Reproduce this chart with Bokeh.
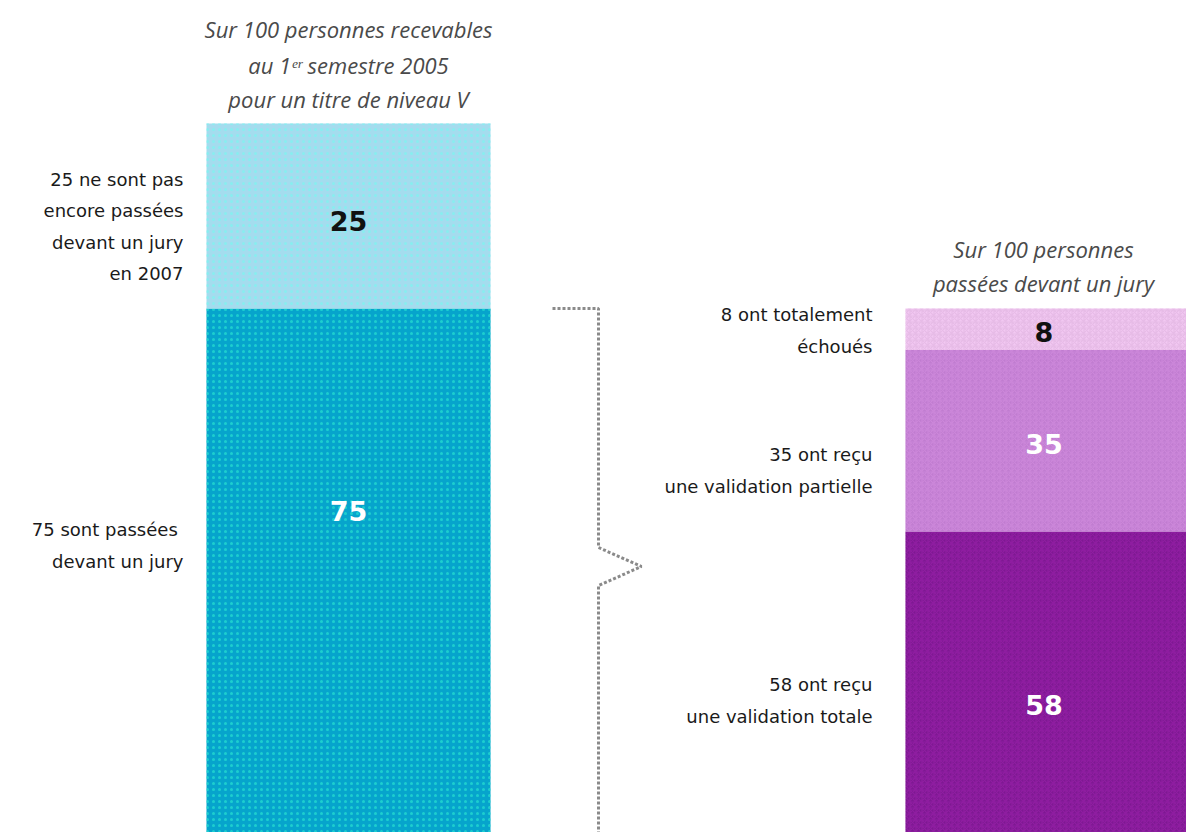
from bokeh.plotting import figure
from bokeh.models import Range1d
from bokeh.core.properties import value
from bokeh.embed import file_html
from bokeh.resources import INLINE
import numpy as np

# ---------------- data ----------------
left_segments = ["sont passées devant un jury", "ne sont pas encore passées"]
left_values = [75, 25]
left_colors = ["#06a4cc", "#a4dcee"]
left_hatch = ["#22d8d0", "#80f2f0"]
left_number_colors = ["white", "#111111"]

right_segments = ["validation totale", "validation partielle", "totalement échoués"]
right_values = [58, 35, 8]
right_colors = ["#7e1892", "#c07cd0", "#f2c8f2"]
right_hatch = ["#a424b4", "#da92e4", "#d8aad8"]
right_number_colors = ["white", "white", "#111111"]

left_title = ["Sur 100 personnes recevables", "au 1ᵉʳ semestre 2005", "pour un titre de niveau V"]
right_title = ["Sur 100 personnes", "passées devant un jury"]
left_labels = ["75 sont  passées\ndevant un jury",
               "25 ne sont pas\nencore passées\ndevant un jury\nen 2007"]
right_labels = ["58 ont reçu\nune validation totale",
                "35 ont reçu\nune validation partielle",
                "8 ont totalement\néchoués"]

# ---------------- layout (screen-pixel geometry of the reference) ----------------
W, H = 1186, 832
L_TOP_PX, L_PX_PER = 123.0, 7.4          # left scale: value 100 at y=123
R_BASE_PX = 832.0                         # right scale: value 0 at y=832
R_TOTAL = sum(right_values)
R_PX_PER = (R_BASE_PX - 308.0) / R_TOTAL  # right stack top at y=308


def vy(py):  # screen y -> left value
    return 100 - (py - L_TOP_PX) / L_PX_PER


def jy(py):  # screen y -> right value
    return (R_BASE_PX - py) / R_PX_PER


p = figure(width=W, height=H, output_backend="svg", toolbar_location=None,
           x_range=Range1d(0, W), y_range=Range1d(vy(H), vy(0)),
           min_border=0, outline_line_color=None, background_fill_color="white",
           border_fill_color="white")
p.extra_y_ranges = {"jury": Range1d(jy(H), jy(0))}
p.xaxis.visible = False
p.yaxis.visible = False
p.grid.visible = False

# left stacked bar
lb = np.concatenate([[0], np.cumsum(left_values)[:-1]])
lt = np.cumsum(left_values)
LX, LW = 348, 284
p.vbar(x=[LX] * len(left_values), width=LW, bottom=lb, top=lt,
       fill_color=left_colors, line_color=None,
       hatch_pattern="dot", hatch_color=left_hatch, hatch_scale=6, hatch_weight=2, hatch_alpha=0.8)

# right stacked bar
rb = np.concatenate([[0], np.cumsum(right_values)[:-1]])
rt = np.cumsum(right_values)
RX, RW = 1045.5, 281
p.vbar(x=[RX] * len(right_values), width=RW, bottom=rb, top=rt, y_range_name="jury",
       fill_color=right_colors, line_color=None,
       hatch_pattern="criss_cross", hatch_color=right_hatch, hatch_scale=6, hatch_weight=1.2, hatch_alpha=0.45)

# bracket linking the 75 to the right bar
bx = [552, 598, 598, 641, 598, 598]
bpy = [308, 308, 547, 566, 585, 840]
p.line(x=bx, y=[vy(v) for v in bpy], line_color="#8a8a8a", line_width=3, line_dash="3 2")

# numbers in the bars
p.text(x=[LX, LX], y=[vy(510), vy(220)], text=[str(v) for v in left_values],
       text_color=left_number_colors, text_font=value("DejaVu Sans"), text_font_style="bold",
       text_font_size="27px", text_align="center", text_baseline="middle")
p.text(x=[RX - 2] * 3, y=[jy(704), jy(443), jy(331)], y_range_name="jury",
       text=[str(v) for v in right_values],
       text_color=right_number_colors, text_font=value("DejaVu Sans"), text_font_style="bold",
       text_font_size="27px", text_align="center", text_baseline="middle")

# side labels
lab_kw = dict(text_color="#1a1a1a", text_font=value("DejaVu Sans"), text_font_size="18px",
              text_align="right", text_baseline="middle", text_line_height=1.5)
p.text(x=[183, 183], y=[vy(545), vy(226)], text=left_labels, **lab_kw)
p.text(x=[872, 872, 872], y=[vy(700), vy(470), vy(330)], text=right_labels, **lab_kw)

# titles
tit_kw = dict(text_color="#4a4a4a", text_font=value("Open Sans"), text_font_style="italic",
              text_font_size="22px", text_align="center", text_baseline="middle")
p.text(x=[348] * 3, y=[vy(28), vy(64), vy(98)], text=left_title, **tit_kw)
p.text(x=[1043] * 2, y=[vy(248), vy(282)], text=right_title, **tit_kw)

open("out.html", "w").write(file_html(p, INLINE))
